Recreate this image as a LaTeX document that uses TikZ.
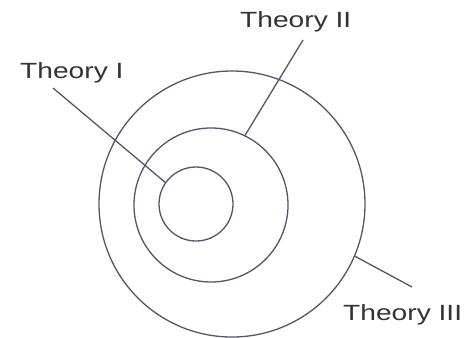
\documentclass[tikz,border=0pt]{standalone}
\usepackage{fontspec}
\setmainfont{Liberation Sans}
\definecolor{thring}{HTML}{55556A}
\definecolor{thtext}{HTML}{333333}
\tikzset{ring/.style={circle,draw=thring,line width=1.3pt,inner sep=0pt,outer sep=0pt},
  thlabel/.style={anchor=base west,inner sep=0pt,text=thtext,font=\fontsize{22}{26}\selectfont},
  thline/.style={draw=thring,line width=1.3pt}}
\newcommand{\thname}[1]{\scalebox{1.28}[1]{#1}}

\begin{document}
\begin{tikzpicture}[x=1pt,y=-1pt]
  \useasboundingbox (0,0) rectangle (465,337);
  \foreach \n/\x/\y/\s in {inner/196/204/74,middle/211/205/154,outer/232/204/266}{%
    \node[ring,minimum size=\s pt] (\n) at (\x,\y){};}
  \node[thlabel] (t1) at (20,78){\thname{Theory I}};
  \node[thlabel] (t2) at (240,28){\thname{Theory II}};
  \node[thlabel] (t3) at (343,320){\thname{Theory III}};
  \coordinate (t1s) at (53,88);
  \coordinate (t2s) at (303,40);
  \coordinate (t3s) at (412,287);
  \draw[thline] (t1s) -- (inner.145);
  \draw[thline] (t2s) -- (middle.64);
  \draw[thline] (t3s) -- (outer.-23);
\end{tikzpicture}
\end{document}
